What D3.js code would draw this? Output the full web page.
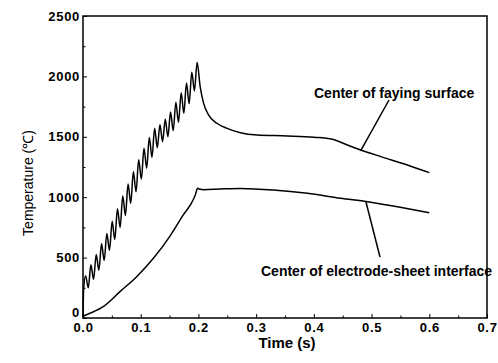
<!DOCTYPE html>
<html><head><meta charset="utf-8">
<script src="https://cdn.jsdelivr.net/npm/d3@7/dist/d3.min.js"></script>
<style>
html,body{margin:0;padding:0;background:#fff;}
text{font-family:"Liberation Sans",Arial,sans-serif;fill:#000;}
</style></head>
<body><svg id="c" width="498" height="363"></svg>
<script>
// ---- data ----
const xTicks = [0.0,0.1,0.2,0.3,0.4,0.5,0.6,0.7];
const yTicks = [0,500,1000,1500,2000,2500];
const fayingTime = [0,0.001,0.0045,0.0091,0.0137,0.0183,0.0229,0.0275,0.0321,0.0367,0.0413,0.0459,0.0505,0.0551,0.0597,0.0643,0.0689,0.0735,0.0781,0.0827,0.0873,0.0919,0.0965,0.1011,0.1057,0.1103,0.1149,0.1195,0.1241,0.1287,0.1333,0.1379,0.1425,0.1471,0.1517,0.1563,0.1609,0.1655,0.1701,0.1747,0.1793,0.1839,0.1885,0.1931,0.1977,
  0.203,0.209,0.2177,0.232,0.2496,0.2727,0.3017,0.354,0.40,0.432,0.440,0.458,0.481,0.516,0.562,0.60];
const fayingTemp = [0,230,350,250,440,320,525,395,615,475,700,560,800,650,905,750,1010,850,1110,950,1210,1045,1310,1150,1405,1240,1495,1330,1570,1410,1600,1460,1645,1500,1705,1550,1785,1620,1865,1695,1945,1775,2035,1880,2118,
  1915,1777,1680,1612,1570,1534,1515,1507,1496,1479,1468,1432,1391,1336,1267,1203];
const electrodeTime = [0,0.012,0.035,0.064,0.093,0.122,0.151,0.174,0.1916,0.195,0.1985,0.203,0.209,0.238,0.273,0.33,0.389,0.446,0.493,0.545,0.60];
const electrodeTemp = [15,39,94,218,342,494,680,855,985,1025,1075,1065,1062,1068,1073,1060,1032,991,963,921,872];
const labels = ["Center of faying surface","Center of electrode-sheet interface"];

// ---- layout ----
const svg = d3.select("#c");
const L=83,R=487,T=16,B=318;
const x = d3.scaleLinear().domain([0,0.7]).range([L,R]);
const y = d3.scaleLinear().domain([0,2500]).range([B,T]);

// frame
svg.append("rect").attr("x",L).attr("y",T).attr("width",R-L).attr("height",B-T)
  .attr("fill","none").attr("stroke","#000").attr("stroke-width",1.5);

// axes (ticks inward)
const yAxis = d3.axisLeft(y).tickValues(d3.range(0,2501,250)).tickSize(-4).tickFormat(d=> yTicks.includes(d)? d3.format("d")(d):"");
const gy = svg.append("g").attr("transform",`translate(${L},0)`).call(yAxis);
gy.select(".domain").remove();
gy.selectAll(".tick line").attr("stroke","#000").attr("x2",function(d){return yTicks.includes(d)?4:2.5;});
gy.selectAll(".tick text").attr("x",-3).style("font-size","13px").style("font-weight","bold").style("letter-spacing","0.7px");
gy.selectAll(".tick").filter(d=>d===0).select("text").attr("dy","-0.1em");

const xAxis = d3.axisBottom(x).tickValues(d3.range(0,0.701,0.05)).tickSize(-4).tickFormat(d=>{const r=Math.round(d*100); return r%10===0? d3.format(".1f")(d):"";});
const gx = svg.append("g").attr("transform",`translate(0,${B})`).call(xAxis);
gx.select(".domain").remove();
gx.selectAll(".tick line").attr("stroke","#000").attr("y2",function(d){return Math.round(d*100)%10===0?-4:-2.5;});
gx.selectAll(".tick text").attr("y",5).style("font-size","13px").style("font-weight","bold").style("letter-spacing","0.7px");

// axis titles
svg.append("text").attr("x",287).attr("y",348).attr("text-anchor","middle")
  .style("font-size","15px").style("font-weight","bold").text("Time (s)");
svg.append("text").attr("transform","translate(33,183) rotate(-90)").attr("text-anchor","middle")
  .style("font-size","14px").text("Temperature (℃)");

// lines
const line = d3.line().x(d=>x(d[0])).y(d=>y(d[1])).curve(d3.curveMonotoneX);
const fay = fayingTime.map((t,i)=>[t,fayingTemp[i]]);
const ele = electrodeTime.map((t,i)=>[t,electrodeTemp[i]]);
svg.append("path").attr("d",line(fay)).attr("fill","none").attr("stroke","#000").attr("stroke-width",1.5);
svg.append("path").attr("d",line(ele)).attr("fill","none").attr("stroke","#000").attr("stroke-width",1.5);

// annotations
svg.append("line").attr("x1",389).attr("y1",100).attr("x2",x(0.481)).attr("y2",y(1391)+1).attr("stroke","#000").attr("stroke-width",1.5);
svg.append("text").attr("x",314).attr("y",98).style("font-size","14px").style("font-weight","bold").text(labels[0]);
svg.append("line").attr("x1",x(0.49)).attr("y1",y(966)).attr("x2",380).attr("y2",257).attr("stroke","#000").attr("stroke-width",1.5);
svg.append("text").attr("x",261).attr("y",276).style("font-size","14px").style("font-weight","bold").text(labels[1]);
</script></body></html>
